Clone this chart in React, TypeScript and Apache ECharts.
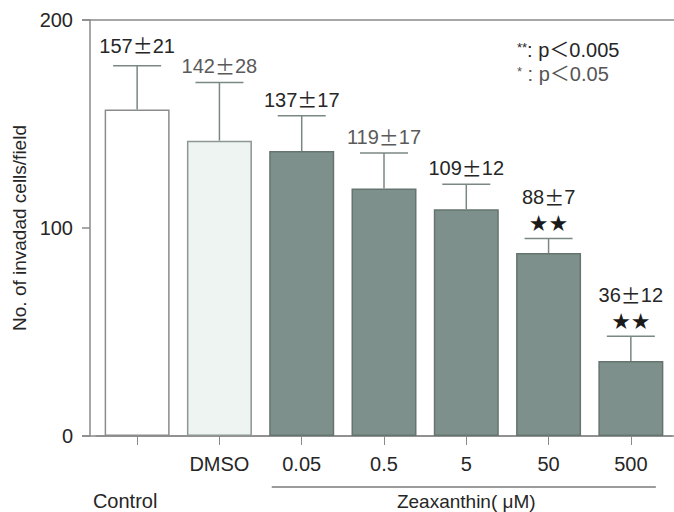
import React, { useEffect, useRef } from "react";
import * as echarts from "echarts";

const categories = ["Control", "DMSO", "0.05", "0.5", "5", "50", "500"];
const means = [157, 142, 137, 119, 109, 88, 36];
const sds = [21, 28, 17, 17, 12, 7, 12];
const stars = ["", "", "", "", "", "★★", "★★"];
const yMin = 0;
const yMax = 200;
const yInterval = 100;

const barFills = ["#ffffff", "#eef4f2", "#7e908b", "#7e908b", "#7e908b", "#7e908b", "#7e908b"];
const barBorders = ["#8b8b8b", "#8c9692", "#66746f", "#66746f", "#66746f", "#66746f", "#66746f"];
const labelColors = ["#262626", "#5a5a5a", "#262626", "#5a5a5a", "#262626", "#262626", "#262626"];

const FONT = "'Liberation Sans', Arial, sans-serif";
const AXIS = "#8a8a8a";

export default function App() {
  const ref = useRef<HTMLDivElement>(null);
  useEffect(() => {
    if (!ref.current) return;
    const chart = echarts.init(ref.current, null, { renderer: "svg" });
    const option: any = {
      animation: false,
      backgroundColor: "#ffffff",
      grid: { left: 96, right: 2, top: 20, bottom: 76 },
      xAxis: {
        type: "category",
        data: categories,
        axisLine: { show: true, lineStyle: { color: AXIS, width: 1.5 } },
        axisTick: { show: true, alignWithLabel: true, length: 9, lineStyle: { color: AXIS, width: 1 } },
        axisLabel: {
          color: "#262626",
          fontSize: 20,
          fontFamily: FONT,
          margin: 18,
          formatter: (v: string) => (v === "Control" ? "" : v),
        },
      },
      yAxis: {
        type: "value",
        min: yMin,
        max: yMax,
        interval: yInterval,
        offset: 6,
        name: "No. of invadad cells/field",
        nameLocation: "middle",
        nameGap: 60,
        nameTextStyle: { color: "#262626", fontSize: 19, fontFamily: FONT },
        splitLine: { show: false },
        axisLine: { show: true, lineStyle: { color: AXIS, width: 1.5 } },
        axisTick: { show: true, length: 8, lineStyle: { color: AXIS, width: 1.5 } },
        axisLabel: { color: "#262626", fontSize: 20, fontFamily: FONT, margin: 17 },
      },
      series: [
        {
          type: "bar",
          barWidth: 65,
          data: means.map((m, i) => ({
            value: m,
            itemStyle: { color: barFills[i], borderColor: barBorders[i], borderWidth: 1.5 },
          })),
        },
        {
          type: "custom",
          data: categories.map((_, i) => [i, means[i], sds[i]]),
          z: 5,
          renderItem: (params: any, api: any) => {
            const i = api.value(0);
            const m = api.value(1);
            const sd = api.value(2);
            const base = api.coord([i, m]);
            const top = api.coord([i, m + sd]);
            const hw = 24;
            const star = stars[i];
            const labelText = `{n|${m}}{pm|±}{n|${sd}}` + (star ? `\n{st|${star}}` : "");
            const children: any[] = [
              {
                type: "line",
                shape: { x1: base[0], y1: base[1], x2: top[0], y2: top[1] },
                style: { stroke: "#7a8782", lineWidth: 1.5 },
              },
              {
                type: "line",
                shape: { x1: top[0] - hw, y1: top[1], x2: top[0] + hw, y2: top[1] },
                style: { stroke: "#7a8782", lineWidth: 1.5 },
              },
              {
                type: "text",
                style: {
                  text: labelText,
                  x: top[0],
                  y: top[1] - (star ? 2 : i === 0 ? 7 : 3),
                  align: "center",
                  verticalAlign: "bottom",
                  rich: {
                    n: { fontSize: 20, fontFamily: FONT, fill: labelColors[i], lineHeight: 26, align: "center" },
                    pm: {
                      fontSize: 20,
                      fontFamily: "'Noto Sans CJK JP', sans-serif",
                      fill: labelColors[i],
                      lineHeight: 26,
                      align: "center",
                    },
                    st: {
                      fontSize: 22,
                      fontFamily: "'DejaVu Sans', sans-serif",
                      fill: "#1a1a1a",
                      lineHeight: 26,
                      align: "center",
                    },
                  },
                },
              },
            ];
            return { type: "group", children };
          },
        },
      ],
    };
    chart.setOption(option);

    const yTop = chart.convertToPixel({ yAxisIndex: 0 }, yMax) as number;
    const yZero = chart.convertToPixel({ yAxisIndex: 0 }, yMin) as number;
    const xCtrl = chart.convertToPixel({ xAxisIndex: 0 }, 0) as number;
    const xFirst = chart.convertToPixel({ xAxisIndex: 0 }, 2) as number;
    const xLast = chart.convertToPixel({ xAxisIndex: 0 }, 6) as number;

    chart.setOption({
      graphic: [
        {
          type: "line",
          shape: { x1: 82, y1: yTop, x2: 674, y2: yTop },
          style: { stroke: AXIS, lineWidth: 1.5 },
        },
        {
          type: "line",
          shape: { x1: 82, y1: yZero, x2: 674, y2: yZero },
          style: { stroke: AXIS, lineWidth: 1.5 },
        },
        {
          type: "line",
          shape: { x1: xFirst - 30, y1: yZero + 51, x2: xLast + 25, y2: yZero + 51 },
          style: { stroke: "#7a7a7a", lineWidth: 1.5 },
        },
        {
          type: "text",
          style: {
            text: "Control",
            x: xCtrl - 12,
            y: yZero + 65,
            align: "center",
            verticalAlign: "middle",
            fontSize: 20,
            fontFamily: FONT,
            fill: "#262626",
          },
        },
        {
          type: "text",
          style: {
            text: "Zeaxanthin( μM)",
            x: (xFirst + xLast) / 2,
            y: yZero + 65,
            align: "center",
            verticalAlign: "middle",
            fontSize: 19,
            fontFamily: FONT,
            fill: "#262626",
          },
        },
        {
          type: "text",
          style: {
            text: "{s|**}{t|: p＜0.005}",
            x: 517,
            y: 50,
            align: "left",
            verticalAlign: "middle",
            rich: {
              s: { fontSize: 13, fontFamily: FONT, fill: "#262626", padding: [0, 0, 6, 0] },
              t: { fontSize: 20, fontFamily: "'Liberation Sans', 'Noto Sans CJK JP', sans-serif", fill: "#262626" },
            },
          },
        },
        {
          type: "text",
          style: {
            text: "{s|*}{t| : p＜0.05}",
            x: 517,
            y: 74,
            align: "left",
            verticalAlign: "middle",
            rich: {
              s: { fontSize: 13, fontFamily: FONT, fill: "#555555", padding: [0, 0, 6, 0] },
              t: { fontSize: 20, fontFamily: "'Liberation Sans', 'Noto Sans CJK JP', sans-serif", fill: "#555555" },
            },
          },
        },
      ],
    });
    return () => chart.dispose();
  }, []);
  return (
    <div
      ref={ref}
      style={{ position: "fixed", left: 0, top: 0, width: 674, height: 512, background: "#fff" }}
    />
  );
}
